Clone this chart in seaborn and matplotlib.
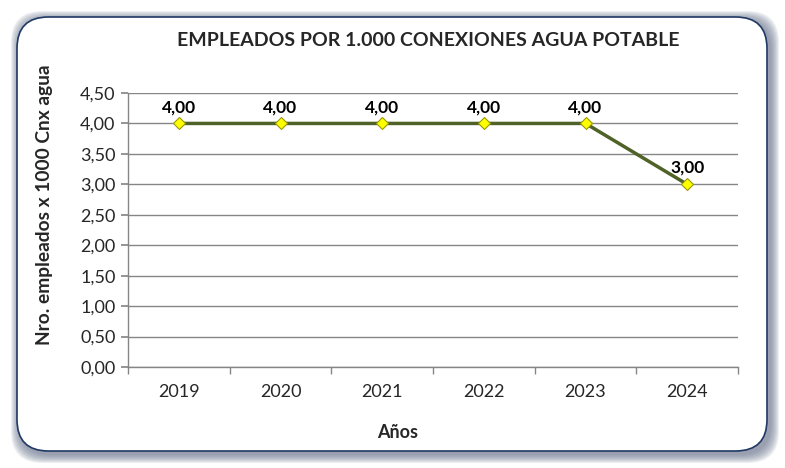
import matplotlib
matplotlib.use("Agg")
import matplotlib.pyplot as plt
import seaborn as sns
import pandas as pd
from matplotlib.patches import FancyBboxPatch

years = ["2019", "2020", "2021", "2022", "2023", "2024"]
values = [4.0, 4.0, 4.0, 4.0, 4.0, 3.0]
yticks = [0, 0.5, 1.0, 1.5, 2.0, 2.5, 3.0, 3.5, 4.0, 4.5]

title = "EMPLEADOS POR 1.000 CONEXIONES AGUA POTABLE"
xlabel = "Años"
ylabel = "Nro. empleados x 1000 Cnx agua"

sns.set_theme(style="white")
plt.rcParams['font.family'] = ['Lato', 'DejaVu Sans']

W, H = 785, 468
fig = plt.figure(figsize=(W/100, H/100), dpi=100)
fig.patch.set_facecolor("white")

# shadowed rounded border
x0, y0, x1, y1 = 17, 17, 767, 451
for i in range(9, 0, -1):
    off = i
    p = FancyBboxPatch(((x0 - off + 3)/W, 1 - (y1 + off + 3)/H),
                       (x1 - x0 + 2*off)/W, (y1 - y0 + 2*off)/H,
                       boxstyle="round,pad=0,rounding_size=0.04",
                       transform=fig.transFigure, facecolor="#6f7b90",
                       edgecolor="none", alpha=0.12, zorder=0, mutation_aspect=W/H)
    fig.patches.append(p)
border = FancyBboxPatch((x0/W, 1 - y1/H), (x1 - x0)/W, (y1 - y0)/H,
                        boxstyle="round,pad=0,rounding_size=0.04",
                        transform=fig.transFigure, facecolor="white",
                        edgecolor="#1f3864", linewidth=1.2, zorder=1, mutation_aspect=W/H)
fig.patches.append(border)

ax = fig.add_axes([128/W, 1 - 367/H, (738 - 128)/W, (367 - 93)/H])
ax.set_zorder(2)
ax.patch.set_alpha(0)

df = pd.DataFrame({"year": years, "value": values})
sns.pointplot(data=df, x="year", y="value", ax=ax, color="#4F6228",
              marker="D", markersize=6, markerfacecolor="#FFFF00",
              markeredgecolor="#9B9B00", markeredgewidth=0.8, linewidth=2.5,
              errorbar=None)

for i, v in enumerate(values):
    ax.annotate(f"{v:.2f}".replace(".", ","), (i, v), xytext=(0, 6),
                textcoords="offset points", ha="center", va="bottom",
                fontsize=12.5, fontweight="bold", color="black")

ax.set_xlim(-0.5, len(years) - 0.5)
ax.set_ylim(0, 4.5)
ax.set_yticks(yticks)
ax.set_yticklabels([f"{t:.2f}".replace(".", ",") for t in yticks], fontsize=13)
ax.set_xticks(range(len(years)))
ax.set_xticklabels(years, fontsize=13)
ax.tick_params(axis="x", length=0, pad=12)
ax.tick_params(axis="y", length=5, color="#868686", direction="out", left=True, pad=4)
# minor ticks at category boundaries
ax.set_xticks([i - 0.5 for i in range(len(years) + 1)], minor=True)
ax.tick_params(axis="x", which="minor", length=5, color="#868686", direction="out", bottom=True)

ax.grid(axis="y", color="#868686", linewidth=1)
ax.set_axisbelow(True)
for s in ["top", "right"]:
    ax.spines[s].set_visible(False)
for s in ["left", "bottom"]:
    ax.spines[s].set_color("#868686")
    ax.spines[s].set_linewidth(1)

ax.set_xlabel("")
ax.set_ylabel("")
fig.text(398/W, 1 - 432/H, xlabel, ha="center", va="center", fontsize=13, fontweight="bold", zorder=3)
fig.text(45/W, 1 - 205/H, ylabel, ha="center", va="center", rotation=90, fontsize=13.8, fontweight="bold", zorder=3)
fig.text(428/W, 1 - 40/H, title, ha="center", va="center", fontsize=14, fontweight="bold", zorder=3)

fig.savefig("out.png", dpi=100, facecolor="white")
